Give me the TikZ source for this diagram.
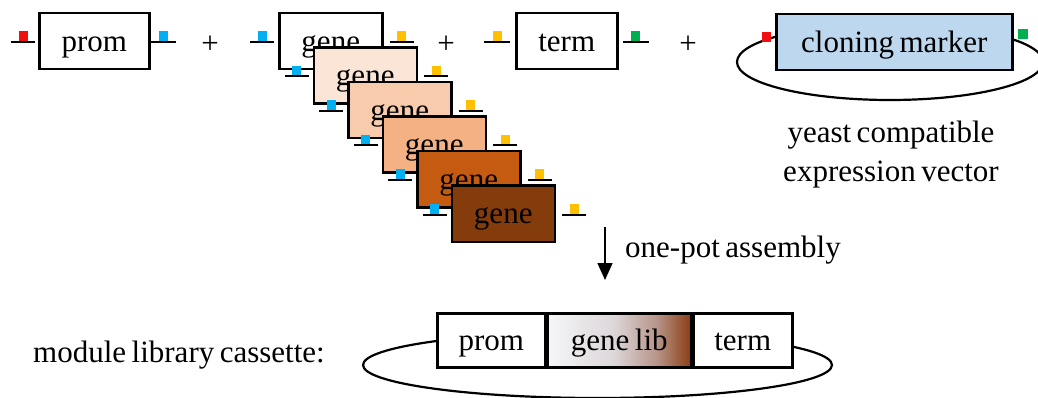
\documentclass[tikz,border=0pt]{standalone}
\usepackage{fontspec}
\setmainfont{Liberation Serif}
\usetikzlibrary{arrows.meta,calc}
\definecolor{cred}{HTML}{F01010}
\definecolor{cblue}{HTML}{00B0F0}
\definecolor{cyellow}{HTML}{FFC000}
\definecolor{cgreen}{HTML}{00B050}
\definecolor{g1}{HTML}{FFFFFF}
\definecolor{g2}{HTML}{FBE5D6}
\definecolor{g3}{HTML}{F8CBAD}
\definecolor{g4}{HTML}{F4B183}
\definecolor{g5}{HTML}{C55A11}
\definecolor{g6}{HTML}{843C0C}
\definecolor{cmark}{HTML}{BDD7EE}
\definecolor{sh1}{HTML}{F5F6F9}
\definecolor{sh2}{HTML}{DDD7D9}
\definecolor{sh3}{HTML}{B8958A}
\definecolor{sh4}{HTML}{8B3E14}
\pgfdeclarehorizontalshading{genelib}{100bp}{color(0bp)=(sh1); color(25bp)=(sh1); color(48bp)=(sh2); color(63bp)=(sh3); color(75bp)=(sh4); color(100bp)=(sh4)}
\newcommand\diagfont{\fontsize{31}{38}\selectfont\spaceskip=5.5pt plus 1pt minus 1pt\relax}
% left stub: node, colour, gap, length
\newcommand\stubL[4]{%
  \draw[stubline] ($(#1.north west)+(-#3,30)$) coordinate (tmpL) -- ++(-#4,0);
  \fill[#2] ($(tmpL)+(-#4/2-4.5,-1)$) rectangle ++(9,-9.5);}
\newcommand\stubR[4]{%
  \draw[stubline] ($(#1.north east)+(#3,30)$) coordinate (tmpR) -- ++(#4,0);
  \fill[#2] ($(tmpR)+(#4/2-4.5,-1)$) rectangle ++(9,-9.5);}
\begin{document}
\begin{tikzpicture}[x=1pt,y=-1pt,
  every node/.style={font=\diagfont, inner sep=0pt},
  box/.style={draw, line width=2.5pt, minimum height=56pt, anchor=north west, text height=24pt, text depth=4pt},
  stubline/.style={line width=2pt},
  loop/.style={line width=2.2pt}]
\useasboundingbox (0,0) rectangle (1038,398);

% promoter
\node[box, fill=white, minimum width=110pt] (prom) at (38,12) {prom};
\stubL{prom}{cred}{3}{24}
\stubR{prom}{cblue}{0}{25}
\node (plus1) at (210,45) {+};

% gene library
\foreach \k/\c in {0/g1,1/g2,2/g3,3/g4,4/g5,5/g6}{
  \node[box, fill=\c, minimum width=103pt] (gene\k) at (278+34.5*\k,12+34.5*\k) {gene};
  \stubL{gene\k}{cblue}{4}{24}
  \stubR{gene\k}{cyellow}{6}{24}
}
\node (plus2) at (446,45) {+};

% terminator
\node[box, fill=white, minimum width=101pt] (term) at (515,12) {term};
\stubL{term}{cyellow}{5}{26}
\stubR{term}{cgreen}{4}{26}
\node (plus3) at (688,45) {+};

% vector
\draw[loop] (890,62) ellipse [x radius=153pt, y radius=38pt];
\node[box, fill=cmark, minimum width=236pt] (cm) at (775,13) {cloning marker};
\fill[cred] ($(cm.north west)+(-13,29)$) rectangle ++(9,-10);
\fill[cgreen] ($(cm.north east)+(4,26)$) rectangle ++(10,-10);
\node[anchor=base] (yc1) at (891,143) {yeast compatible};
\node[anchor=base] (yc2) at (891,182) {expression vector};

% assembly arrow
\coordinate (a1) at (605,227);
\coordinate (a2) at (605,280);
\draw[line width=1.5pt, -{Triangle[width=15pt,length=17pt]}] (a1) -- (a2);
\node[anchor=west] (opa) at (625,250) {one-pot assembly};

% cassette
\draw[loop] (597.5,365) ellipse [x radius=234.5pt, y radius=33pt];
\node[box, fill=white, minimum width=108pt, minimum height=54pt] (cp) at (436,312) {prom};
\node[box, shade, shading=genelib, minimum width=143pt, minimum height=54pt] (cg) at (cp.north east) {gene lib};
\node[box, fill=white, minimum width=99pt, minimum height=54pt] (ct) at (cg.north east) {term};
\node[anchor=base west] (mlc) at (33,362) {module library cassette:};
\end{tikzpicture}
\end{document}
